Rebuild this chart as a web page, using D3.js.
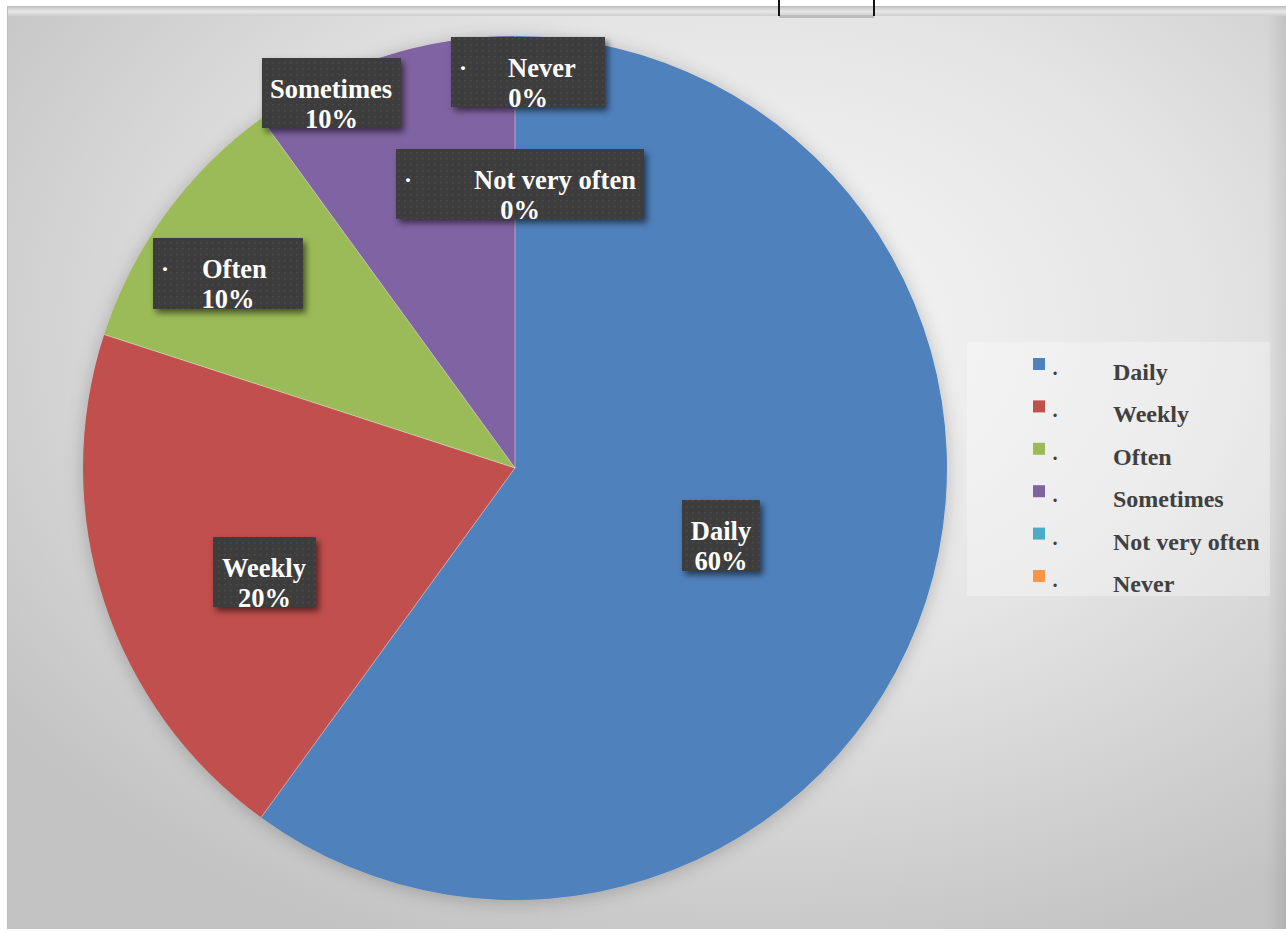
<!DOCTYPE html>
<html>
<head>
<meta charset="utf-8">
<script src="https://cdn.jsdelivr.net/npm/d3@7"></script>
<style>
  html, body { margin: 0; padding: 0; background: #ffffff; }
  svg { display: block; }
</style>
</head>
<body>
<svg id="chart" width="1286" height="932"></svg>
<script>
// Survey answers: how often respondents do it
const categories = ["Daily", "Weekly", "Often", "Sometimes", "Not very often", "Never"];
const percents = [60, 20, 10, 10, 0, 0];
const sliceColors = ["#4f81bd", "#c0504d", "#9bbb59", "#8064a2", "#4bacc6", "#f79646"];
// data labels that carry a leading bullet in their first line
const labelHasBullet = [false, false, true, false, true, true];

// placement of each data-label callout box (left, top, width, height, name position)
const labelBoxes = [
  { x: 682, y: 500, w: 78,  h: 71, nameX: 721, anchor: "middle" },
  { x: 213, y: 537, w: 103, h: 70, nameX: 264, anchor: "middle" },
  { x: 153, y: 238, w: 150, h: 71, nameX: 202, anchor: "start" },
  { x: 262, y: 58,  w: 139, h: 70, nameX: 331, anchor: "middle" },
  { x: 396, y: 149, w: 248, h: 70, nameX: 474, anchor: "start" },
  { x: 451, y: 37,  w: 154, h: 70, nameX: 508, anchor: "start" }
];

const svg = d3.select("#chart");
const W = 1286, H = 932;
const cx = 515, cy = 468, R = 432;
const serif = "'Liberation Serif', 'Times New Roman', serif";

const defs = svg.append("defs");

// chart-area background: soft radial grey
const bg = defs.append("radialGradient").attr("id", "bgGrad")
  .attr("cx", "58%").attr("cy", "35%").attr("r", "72%");
bg.append("stop").attr("offset", "0%").attr("stop-color", "#f7f7f7");
bg.append("stop").attr("offset", "50%").attr("stop-color", "#e4e4e4");
bg.append("stop").attr("offset", "100%").attr("stop-color", "#c3c3c3");

const strip = defs.append("linearGradient").attr("id", "stripGrad")
  .attr("x1", 0).attr("y1", 0).attr("x2", 0).attr("y2", 1);
strip.append("stop").attr("offset", "0%").attr("stop-color", "#c8c8c8");
strip.append("stop").attr("offset", "50%").attr("stop-color", "#e6e6e6");
strip.append("stop").attr("offset", "100%").attr("stop-color", "#cfcfcf");

const rightEdge = defs.append("linearGradient").attr("id", "rightEdge")
  .attr("x1", 0).attr("y1", 0).attr("x2", 1).attr("y2", 0);
rightEdge.append("stop").attr("offset", "0%").attr("stop-color", "#000").attr("stop-opacity", 0);
rightEdge.append("stop").attr("offset", "100%").attr("stop-color", "#000").attr("stop-opacity", 0.08);

const pieShadow = defs.append("filter").attr("id", "pieShadow")
  .attr("x", "-10%").attr("y", "-10%").attr("width", "120%").attr("height", "120%");
pieShadow.append("feDropShadow").attr("dx", 0).attr("dy", 2)
  .attr("stdDeviation", 9).attr("flood-color", "#000").attr("flood-opacity", 0.22);

const boxShadow = defs.append("filter").attr("id", "boxShadow")
  .attr("x", "-20%").attr("y", "-20%").attr("width", "150%").attr("height", "160%");
boxShadow.append("feDropShadow").attr("dx", 3).attr("dy", 4)
  .attr("stdDeviation", 3).attr("flood-color", "#000").attr("flood-opacity", 0.55);

// dotted texture of the callout boxes
const pat = defs.append("pattern").attr("id", "dots")
  .attr("width", 6).attr("height", 6).attr("patternUnits", "userSpaceOnUse");
pat.append("rect").attr("width", 6).attr("height", 6).attr("fill", "#3c3c3c");
pat.append("rect").attr("x", 2).attr("y", 2).attr("width", 1.5).attr("height", 1.5).attr("fill", "#4e4e4e");

// frame
svg.append("rect").attr("x", 7).attr("y", 7).attr("width", W - 7).attr("height", 922)
  .attr("fill", "url(#bgGrad)");
svg.append("rect").attr("x", 1266).attr("y", 7).attr("width", 20).attr("height", 922)
  .attr("fill", "url(#rightEdge)");
svg.append("rect").attr("x", 7).attr("y", 7).attr("width", W - 7).attr("height", 9)
  .attr("fill", "url(#stripGrad)");
svg.append("line").attr("x1", 7).attr("x2", W).attr("y1", 6.5).attr("y2", 6.5)
  .attr("stroke", "#bdbdbd");
svg.append("line").attr("x1", 7.5).attr("x2", 7.5).attr("y1", 7).attr("y2", 929)
  .attr("stroke", "#bdbdbd");
svg.append("rect").attr("x", 779).attr("y", 15).attr("width", 95).attr("height", 3)
  .attr("fill", "#bcbcbc");
[779, 874].forEach(x => svg.append("line")
  .attr("x1", x).attr("x2", x).attr("y1", 0).attr("y2", 16)
  .attr("stroke", "#111").attr("stroke-width", 2));

// pie
const pie = d3.pie().sort(null).value(d => d).startAngle(0).endAngle(2 * Math.PI);
const arc = d3.arc().innerRadius(0).outerRadius(R);
const arcs = pie(percents);

const pieG = svg.append("g").attr("transform", `translate(${cx},${cy})`);
pieG.append("g").attr("filter", "url(#pieShadow)")
  .selectAll("path").data(arcs).join("path")
  .attr("d", arc)
  .attr("fill", (d, i) => sliceColors[i]);
// faint separators along slice edges
pieG.append("g").selectAll("line").data(arcs.filter(d => d.endAngle > d.startAngle)).join("line")
  .attr("x1", 0).attr("y1", 0)
  .attr("x2", d => R * Math.sin(d.startAngle))
  .attr("y2", d => -R * Math.cos(d.startAngle))
  .attr("stroke", "rgba(255,255,255,0.4)")
  .attr("stroke-width", 1);

// data label callouts
const labG = svg.append("g");
arcs.forEach((a, i) => {
  const b = labelBoxes[i];
  const g = labG.append("g");
  g.append("rect").attr("x", b.x).attr("y", b.y).attr("width", b.w).attr("height", b.h)
    .attr("fill", "url(#dots)").attr("filter", "url(#boxShadow)");
  if (labelHasBullet[i]) {
    g.append("text").attr("x", b.x + 12).attr("y", b.y + 39)
      .attr("text-anchor", "middle")
      .attr("font-family", serif).attr("font-weight", "bold").attr("font-size", 24)
      .attr("fill", "#ffffff").text("·");
  }
  g.append("text").attr("x", b.nameX).attr("y", b.y + 40)
    .attr("text-anchor", b.anchor)
    .attr("font-family", serif).attr("font-weight", "bold").attr("font-size", 26.5)
    .attr("fill", "#ffffff").text(categories[i]);
  g.append("text").attr("x", b.x + b.w / 2).attr("y", b.y + 70)
    .attr("text-anchor", "middle")
    .attr("font-family", serif).attr("font-weight", "bold").attr("font-size", 26.5)
    .attr("fill", "#ffffff").text(`${a.data}%`);
});

// legend
const legX = 967, legY = 342, legW = 303, legH = 254;
const legG = svg.append("g");
legG.append("rect").attr("x", legX).attr("y", legY).attr("width", legW).attr("height", legH)
  .attr("fill", "#ffffff").attr("fill-opacity", 0.3);
const rowBase = d3.scaleLinear().domain([0, categories.length - 1]).range([380, 592]);
categories.forEach((c, i) => {
  const y = rowBase(i);
  legG.append("rect").attr("x", 1033).attr("y", y - 22).attr("width", 12).attr("height", 12)
    .attr("fill", sliceColors[i]);
  legG.append("text").attr("x", 1055).attr("y", y)
    .attr("text-anchor", "middle")
    .attr("font-family", serif).attr("font-weight", "bold").attr("font-size", 20)
    .attr("fill", "#404040").text("·");
  legG.append("text").attr("x", 1113).attr("y", y)
    .attr("font-family", serif).attr("font-weight", "bold").attr("font-size", 24)
    .attr("fill", "#404040").text(c);
});
</script>
</body>
</html>
